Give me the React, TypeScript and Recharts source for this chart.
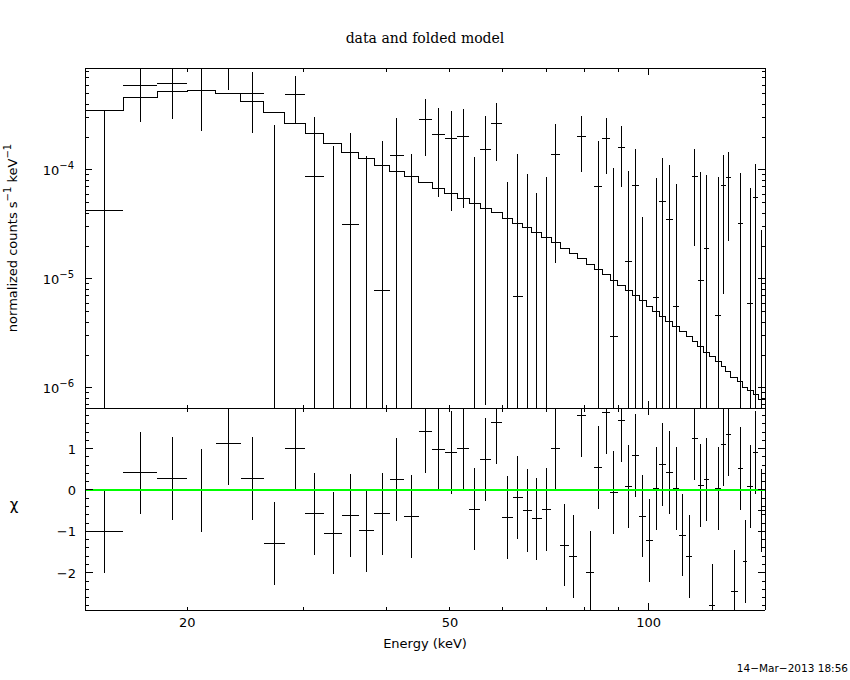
import type { ReactNode } from 'react';
import { ComposedChart, Line, Scatter, ErrorBar, XAxis, YAxis, ReferenceLine } from 'recharts';

// channel edges (keV), 59 grouped bins
const binEdges = [
  14.0, 16.0, 18.0, 20.0, 22.1, 24.1, 26.1, 28.1, 30.2, 32.2, 34.3, 36.4, 38.4, 40.5, 42.6, 44.8, 47.0, 49.1, 51.3, 53.5,
  55.6, 57.7, 60.0, 62.2, 64.4, 66.5, 68.9, 71.2, 73.4, 75.8, 77.9, 80.4, 82.7, 85.0, 87.4, 89.7, 92.1, 94.4, 96.8, 99.1,
  101.4, 103.8, 106.2, 108.7, 111.3, 113.9, 116.3, 118.7, 121.1, 123.5, 126.1, 128.7, 130.9, 133.2, 136.3, 138.7, 141.1,
  144.0, 146.6, 150.0,
];

// folded model (normalized counts s^-1 keV^-1)
const modelRate = [
  3.5e-4, 4.65e-4, 5.28e-4, 5.35e-4, 5.02e-4, 4.28e-4, 3.36e-4, 2.68e-4, 2.17e-4, 1.74e-4,
  1.45e-4, 1.26e-4, 1.1e-4, 9.65e-5, 8.62e-5, 7.64e-5, 6.74e-5, 6.06e-5, 5.45e-5, 4.91e-5,
  4.45e-5, 4.03e-5, 3.6e-5, 3.24e-5, 2.95e-5, 2.66e-5, 2.39e-5, 2.15e-5, 1.91e-5, 1.72e-5,
  1.53e-5, 1.36e-5, 1.22e-5, 1.09e-5, 9.7e-6, 8.73e-6, 7.79e-6, 7.02e-6, 6.31e-6, 5.64e-6,
  5.07e-6, 4.54e-6, 4.08e-6, 3.67e-6, 3.28e-6, 2.95e-6, 2.64e-6, 2.38e-6, 2.13e-6, 1.93e-6,
  1.74e-6, 1.56e-6, 1.41e-6, 1.26e-6, 1.14e-6, 1.02e-6, 9.5e-7, 8.7e-7, 7.8e-7,
];

// measured rate and 1-sigma error per bin (negative rates fall below the plot)
const dataRate = [
  4.27e-5, 5.91e-4, 6.16e-4, 5.3e-4, 8.45e-4, 5.06e-4, -5e-6, 4.96e-4, 8.75e-5, -3.4e-5,
  3.17e-5, -4.6e-5, 7.9e-6, 1.35e-4, -1.2e-5, 2.92e-4, 2.13e-4, 1.95e-4, 2.04e-4, -2e-5,
  1.55e-4, 2.68e-4, -4.8e-5, 6.9e-6, -3.3e-5, -5.6e-5, -3.3e-5, 1.39e-4, -1.4e-4, -1.6e-4,
  2.04e-4, -2.06e-4, 7.03e-5, 1.95e-4, 2.97e-6, 1.62e-4, 1.45e-5, 7.23e-5, -4.5e-5, -9.3e-5,
  6.78e-6, 5.16e-5, 3.52e-5, 5.56e-6, -7.3e-5, -1.1e-4, 8.75e-5, 9.7e-6, 1.91e-5, -1.8e-4,
  4.63e-6, 7.23e-5, 8.44e-5, -1.58e-4, 3.24e-5, -1.11e-4, 5.89e-6, 5.57e-5, -2.6e-5,
];
const dataErr = [
  3.07e-4, 3.17e-4, 3.2e-4, 3.05e-4, 3.1e-4, 2.87e-4, 2.64e-4, 2.3e-4, 2.17e-4, 2.0e-4,
  1.87e-4, 1.8e-4, 1.78e-4, 1.67e-4, 1.51e-4, 1.57e-4, 1.56e-4, 1.53e-4, 1.59e-4, 1.5e-4,
  1.543e-4, 1.47e-4, 1.26e-4, 1.33e-4, 1.25e-4, 1.18e-4, 1.19e-4, 1.25e-4, 1.2e-4, 1.1e-4,
  1.09e-4, 1.1e-4, 1.12e-4, 1.03e-4, 1.02e-4, 9.2e-5, 8.34e-5, 8.4e-5, 8.2e-5, 8.0e-5,
  7.76e-5, 7.6e-5, 7.6e-5, 6.9e-5, 7.0e-5, 7.0e-5, 6.75e-5, 8.5e-5, 7.0e-5, 6.5e-5,
  8.2e-5, 6.5e-5, 6.2e-5, 6.5e-5, 6.2e-5, 6.5e-5, 6.3e-5, 5.7e-5, 5.4e-5,
];

// residuals (data - model) / sigma
const chiValues = [
  -1.01, 0.41, 0.28, -0.02, 1.13, 0.28, -1.3, 1.0, -0.58, -1.04,
  -0.61, -0.97, -0.58, 0.26, -0.65, 1.41, 0.98, 0.9, 1.0, -0.46,
  0.74, 1.62, -0.67, -0.18, -0.5, -0.7, -0.48, 1.0, -1.33, -1.61,
  1.8, -2.0, 0.54, 1.87, -0.06, 1.68, 0.09, 0.83, -0.63, -1.23,
  0.04, 0.62, 0.43, 0.04, -1.09, -1.61, 1.24, 0.11, 0.26, -2.79,
  0.04, 1.1, 1.34, -2.45, 0.52, -1.73, 0.09, 0.9, -0.5,
];

const energyTicks = [20, 30, 40, 50, 60, 70, 80, 90, 100];
const energyLongTicks = [100];
const energyLabelTicks = [20, 50, 100];
const energyLabels = ['20', '50', '100'];

const rateTicks = [
  7e-7, 8e-7, 9e-7, 1e-6, 2e-6, 3e-6, 4e-6, 5e-6, 6e-6, 7e-6, 8e-6, 9e-6, 1e-5, 2e-5, 3e-5, 4e-5, 5e-5,
  6e-5, 7e-5, 8e-5, 9e-5, 1e-4, 2e-4, 3e-4, 4e-4, 5e-4, 6e-4, 7e-4, 8e-4,
];
const rateMajorTicks = [1e-6, 1e-5, 1e-4];
const rateExponents = ['\u22126', '\u22125', '\u22124'];

const chiTicks = [
  -2.8, -2.6, -2.4, -2.2, -2, -1.8, -1.6, -1.4, -1.2, -1, -0.8, -0.6, -0.4, -0.2, 0, 0.2, 0.4, 0.6, 0.8, 1, 1.2,
  1.4, 1.6, 1.8,
];
const chiMajorTicks = [-2, -1, 0, 1];
const chiLabels = ['\u22122', '\u22121', '0', '1'];

const E_MIN = 14;
const E_MAX = 150;
const RATE_MIN = 6.55e-7;
const RATE_MAX = 8.6e-4;
const CHI_MIN = -2.9;
const CHI_MAX = 1.98;

const SANS = '"DejaVu Sans", sans-serif';

const bins = dataRate.map((v, i) => {
  const lo = binEdges[i];
  const hi = binEdges[i + 1];
  return { lo, hi, e: (lo + hi) / 2, v, s: dataErr[i], chi: chiValues[i] };
});

const rateCrosses = bins
  .filter(b => b.v > RATE_MIN)
  .map(b => ({
    e: b.e,
    v: b.v,
    ex: [b.e - b.lo, b.hi - b.e],
    ey: [b.v - Math.max(b.v - b.s, RATE_MIN), Math.min(b.v + b.s, RATE_MAX) - b.v],
  }));

// bins whose rate is below the axis but whose upper error reaches into it
const rateUpperOnly = bins
  .filter(b => b.v <= RATE_MIN && b.v + b.s > RATE_MIN)
  .map(b => ({ e: b.e, v: RATE_MIN, ey: [0, Math.min(b.v + b.s, RATE_MAX) - RATE_MIN] }));

const modelSteps = binEdges.map((e, i) => ({ e, v: modelRate[Math.min(i, modelRate.length - 1)] }));

const chiCrosses = bins.map(b => ({
  e: b.e,
  v: b.chi,
  ex: [b.e - b.lo, b.hi - b.e],
  ey: [b.chi - Math.max(b.chi - 1, CHI_MIN), Math.min(b.chi + 1, CHI_MAX) - b.chi],
}));

type Side = 'left' | 'right' | 'top' | 'bottom';
interface TickProps {
  x?: number;
  y?: number;
  payload?: { value: number };
}

function makeTick(
  side: Side,
  longTicks: number[],
  longLen: number,
  shortLen: number,
  label?: (v: number, x: number, y: number) => ReactNode,
) {
  const AxisTick = ({ x = 0, y = 0, payload }: TickProps) => {
    const v = payload?.value ?? 0;
    const len = longTicks.includes(v) ? longLen : shortLen;
    let x2 = x;
    let y2 = y;
    if (side === 'left') x2 = x + len;
    if (side === 'right') x2 = x - len;
    if (side === 'top') y2 = y + len;
    if (side === 'bottom') y2 = y - len;
    return (
      <g>
        <line x1={x} y1={y} x2={x2} y2={y2} stroke="#000" strokeWidth={1} />
        {label ? label(v, x, y) : null}
      </g>
    );
  };
  return AxisTick;
}

const rateLabel = (v: number, x: number, y: number) => {
  const i = rateMajorTicks.indexOf(v);
  if (i < 0) return null;
  return (
    <text x={x - 11} y={y + 5} textAnchor="end" fontSize={13} fontFamily={SANS} fill="#000">
      10
      <tspan dy={-6} fontSize={10}>
        {rateExponents[i]}
      </tspan>
    </text>
  );
};

const chiLabel = (v: number, x: number, y: number) => {
  const i = chiMajorTicks.indexOf(v);
  if (i < 0) return null;
  return (
    <text x={x - 9} y={y + 5} textAnchor="end" fontSize={13} fontFamily={SANS} fill="#000">
      {chiLabels[i]}
    </text>
  );
};

const energyLabel = (v: number, x: number, y: number) => {
  const i = energyLabelTicks.indexOf(v);
  if (i < 0) return null;
  return (
    <text x={x} y={y + 17} textAnchor="middle" fontSize={13} fontFamily={SANS} fill="#000">
      {energyLabels[i]}
    </text>
  );
};

const noMarker = () => <g />;

// axes are 1px thick so recharts still draws them; margins absorb that pixel
const axisCommon = {
  allowDataOverflow: true,
  interval: 0 as const,
  tickSize: 0,
  tickMargin: 0,
  tickLine: false,
  axisLine: { stroke: '#000', strokeWidth: 1 },
};

function EnergyAxes({ labelled }: { labelled: boolean }) {
  return [
    <XAxis
      key="xb"
      xAxisId="b"
      dataKey="e"
      type="number"
      scale="log"
      domain={[E_MIN, E_MAX]}
      ticks={energyTicks}
      height={1}
      tick={makeTick('bottom', energyLongTicks, 7, 3.5, labelled ? energyLabel : undefined)}
      {...axisCommon}
    />,
    <XAxis
      key="xt"
      xAxisId="t"
      orientation="top"
      dataKey="e"
      type="number"
      scale="log"
      domain={[E_MIN, E_MAX]}
      ticks={energyTicks}
      height={1}
      tick={makeTick('top', energyLongTicks, 7, 3.5)}
      {...axisCommon}
    />,
  ];
}

export default function App() {
  return (
    <div
      style={{
        position: 'absolute',
        left: 0,
        top: 0,
        width: 850,
        height: 680,
        background: '#fff',
        shapeRendering: 'crispEdges',
      }}
    >
      <div style={{ position: 'absolute', left: 0, top: 0 }}>
        <ComposedChart width={850} height={409} margin={{ top: 67, right: 84, bottom: 0, left: 84 }}>
          {EnergyAxes({ labelled: false })}
          <YAxis
            yAxisId="l"
            dataKey="v"
            type="number"
            scale="log"
            domain={[RATE_MIN, RATE_MAX]}
            ticks={rateTicks}
            width={1}
            tick={makeTick('left', rateMajorTicks, 7, 3.5, rateLabel)}
            {...axisCommon}
          />
          <YAxis
            yAxisId="r"
            orientation="right"
            dataKey="v"
            type="number"
            scale="log"
            domain={[RATE_MIN, RATE_MAX]}
            ticks={rateTicks}
            width={1}
            tick={makeTick('right', rateMajorTicks, 7, 3.5)}
            {...axisCommon}
          />
          <Line
            xAxisId="b"
            yAxisId="l"
            data={modelSteps}
            dataKey="v"
            type="stepAfter"
            stroke="#000"
            strokeWidth={1}
            dot={false}
            isAnimationActive={false}
          />
          <Scatter xAxisId="b" yAxisId="l" data={rateCrosses} dataKey="v" shape={noMarker} isAnimationActive={false}>
            <ErrorBar dataKey="ex" direction="x" width={0} stroke="#000" strokeWidth={1} />
            <ErrorBar dataKey="ey" direction="y" width={0} stroke="#000" strokeWidth={1} />
          </Scatter>
          <Scatter xAxisId="b" yAxisId="l" data={rateUpperOnly} dataKey="v" shape={noMarker} isAnimationActive={false}>
            <ErrorBar dataKey="ey" direction="y" width={0} stroke="#000" strokeWidth={1} />
          </Scatter>
        </ComposedChart>
      </div>

      <div style={{ position: 'absolute', left: 0, top: 407 }}>
        <ComposedChart width={850} height={273} margin={{ top: 0, right: 84, bottom: 69, left: 84 }}>
          {EnergyAxes({ labelled: true })}
          <YAxis
            yAxisId="l"
            dataKey="v"
            type="number"
            domain={[CHI_MIN, CHI_MAX]}
            ticks={chiTicks}
            width={1}
            tick={makeTick('left', chiMajorTicks, 7.5, 3.5, chiLabel)}
            {...axisCommon}
          />
          <YAxis
            yAxisId="r"
            orientation="right"
            dataKey="v"
            type="number"
            domain={[CHI_MIN, CHI_MAX]}
            ticks={chiTicks}
            width={1}
            tick={makeTick('right', chiMajorTicks, 7.5, 3.5)}
            {...axisCommon}
          />
          <Scatter xAxisId="b" yAxisId="l" data={chiCrosses} dataKey="v" shape={noMarker} isAnimationActive={false}>
            <ErrorBar dataKey="ex" direction="x" width={0} stroke="#000" strokeWidth={1} />
            <ErrorBar dataKey="ey" direction="y" width={0} stroke="#000" strokeWidth={1} />
          </Scatter>
          <ReferenceLine xAxisId="b" yAxisId="l" y={0} stroke="#00ff00" strokeWidth={2} />
        </ComposedChart>
      </div>

      <svg
        width={850}
        height={680}
        style={{ position: 'absolute', left: 0, top: 0, pointerEvents: 'none', shapeRendering: 'auto' }}
      >
        <text x={425} y={43} textAnchor="middle" fontSize={14} fontFamily='"DejaVu Serif", serif' fill="#000">
          data and folded model
        </text>
        <text
          x={17}
          y={238}
          transform="rotate(-90 17 238)"
          textAnchor="middle"
          fontSize={13}
          fontFamily={SANS}
          fill="#000"
        >
          normalized counts s
          <tspan dy={-6} fontSize={10}>
            {'\u22121'}
          </tspan>
          <tspan dy={6}> keV</tspan>
          <tspan dy={-6} fontSize={10}>
            {'\u22121'}
          </tspan>
        </text>
        <text x={14} y={510} textAnchor="middle" fontSize={15} fontFamily={SANS} fill="#000">
          χ
        </text>
        <text x={425} y={648} textAnchor="middle" fontSize={13} fontFamily={SANS} fill="#000">
          Energy (keV)
        </text>
        <text x={848} y={672} textAnchor="end" fontSize={10.5} fontFamily={SANS} fill="#000">
          14{'\u2212'}Mar{'\u2212'}2013 18:56
        </text>
      </svg>
    </div>
  );
}
